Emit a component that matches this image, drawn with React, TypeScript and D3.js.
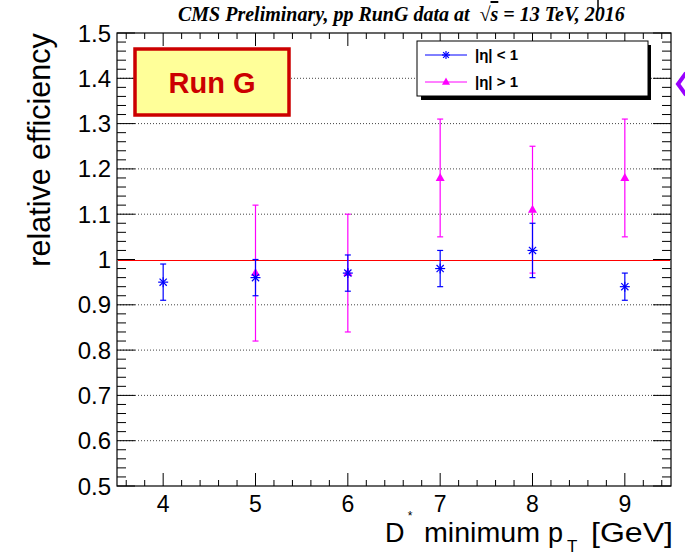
import React from "react";
import * as d3 from "d3";

const ptCuts = [4, 5, 6, 7, 8, 9];
const centralVal = [0.95, 0.96, 0.97, 0.98, 1.02, 0.94];
const centralErr = [0.04, 0.04, 0.04, 0.04, 0.06, 0.03];
const forwardVal = [null, 0.97, 0.97, 1.18, 1.11, 1.18];
const forwardErr = [null, 0.15, 0.13, 0.13, 0.14, 0.13];
const yTicks = [0.5, 0.6, 0.7, 0.8, 0.9, 1, 1.1, 1.2, 1.3, 1.4, 1.5];
const xTicks = [4, 5, 6, 7, 8, 9];
const legendLabels = ["|η| < 1", "|η| > 1"];

const W = 685, H = 554;
const L = 117, R = 671, T = 33, B = 486;
const FONT = "'Liberation Sans', Arial, Helvetica, sans-serif";
const SERIF = "'Liberation Serif', 'Times New Roman', serif";

export default function App() {
  const x = d3.scaleLinear().domain([3.5, 9.5]).range([L, R]);
  const y = d3.scaleLinear().domain([0.5, 1.5]).range([B, T]);

  const yMinor = d3.range(0.5, 1.5001, 0.02).map((v) => +v.toFixed(2));
  const xMinor = d3.range(3.6, 9.5001, 0.2).map((v) => +v.toFixed(2));
  const isMajorY = (v: number) => Math.abs(v * 10 - Math.round(v * 10)) < 1e-6;
  const isMajorX = (v: number) => Math.abs(v - Math.round(v)) < 1e-6;

  const star = (cx: number, cy: number, r: number, color: string, key: string) => {
    const d = r * 0.72;
    return (
      <g key={key} stroke={color} strokeWidth={1.2}>
        <line x1={cx - r} y1={cy} x2={cx + r} y2={cy} />
        <line x1={cx} y1={cy - r} x2={cx} y2={cy + r} />
        <line x1={cx - d} y1={cy - d} x2={cx + d} y2={cy + d} />
        <line x1={cx - d} y1={cy + d} x2={cx + d} y2={cy - d} />
      </g>
    );
  };
  const tri = (cx: number, cy: number, r: number, color: string, key: string) => (
    <path
      key={key}
      d={`M${cx},${cy - r} L${cx + r * 0.9},${cy + r * 0.6} L${cx - r * 0.9},${cy + r * 0.6} Z`}
      fill={color}
    />
  );
  const errBar = (xv: number, v: number, e: number, color: string, key: string) => {
    const cx = x(xv);
    const y1 = y(v + e), y2 = y(v - e);
    return (
      <g key={key} stroke={color} strokeWidth={1.2}>
        <line x1={cx} y1={y1} x2={cx} y2={y2} />
        <line x1={cx - 3} y1={y1} x2={cx + 3} y2={y1} />
        <line x1={cx - 3} y1={y2} x2={cx + 3} y2={y2} />
      </g>
    );
  };

  return (
    <svg width={W} height={H} style={{ position: "absolute", left: 0, top: 0, background: "#fff" }}>
      <rect x={0} y={0} width={W} height={H} fill="#fff" />
      {/* grid */}
      {yTicks.filter((v) => v > 0.5 && v < 1.5 && v !== 1).map((v) => (
        <line key={"g" + v} x1={L} x2={R} y1={y(v)} y2={y(v)} stroke="#444" strokeWidth={1} strokeDasharray="1 2" />
      ))}

      {/* y ticks */}
      {yMinor.map((v) => {
        const len = isMajorY(v) ? 18 : 9;
        return (
          <g key={"yt" + v} stroke="#000" strokeWidth={1}>
            <line x1={L} x2={L + len} y1={y(v)} y2={y(v)} />
            <line x1={R} x2={R - len} y1={y(v)} y2={y(v)} />
          </g>
        );
      })}
      {/* x ticks */}
      {xMinor.map((v) => {
        const len = isMajorX(v) ? 13 : 6;
        return (
          <g key={"xt" + v} stroke="#000" strokeWidth={1}>
            <line x1={x(v)} x2={x(v)} y1={B} y2={B - len} />
            <line x1={x(v)} x2={x(v)} y1={T} y2={T + len} />
          </g>
        );
      })}
      {/* red line at 1 */}
      <line x1={L + 1} x2={R - 1} y1={Math.round(y(1)) + 0.5} y2={Math.round(y(1)) + 0.5} stroke="#ff0000" strokeWidth={1} />
      {/* frame */}
      <rect x={L} y={T} width={R - L} height={B - T} fill="none" stroke="#000" strokeWidth={1.2} />

      {/* y tick labels */}
      {yTicks.map((v) => (
        <text key={"yl" + v} x={111} y={y(v) + 8.5} textAnchor="end" fontFamily={FONT} fontSize={24} fill="#000">
          {d3.format("")(v)}
        </text>
      ))}
      {/* x tick labels */}
      {xTicks.map((v) => (
        <text key={"xl" + v} x={x(v)} y={512} textAnchor="middle" fontFamily={FONT} fontSize={23} fill="#000">
          {v}
        </text>
      ))}

      {/* axis titles */}
      <text
        transform={`translate(50,150) rotate(-90)`}
        textAnchor="middle"
        fontFamily={FONT}
        fontSize={30.5}
        fill="#000"
      >
        relative efficiency
      </text>
      <g fontFamily={FONT} fontSize={27} fill="#000">
        <text x={385} y={542}>D</text>
        <text x={424} y={542} textLength={116} lengthAdjust="spacingAndGlyphs">minimum</text>
        <text x={548} y={542}>p</text>
        <text x={567} y={552} fontSize={17}>T</text>
        <text x={591} y={542} textLength={82} lengthAdjust="spacingAndGlyphs">[GeV]</text>
      </g>
      <text x={410} y={520} textAnchor="middle" fontFamily={FONT} fontSize={12} fill="#000">*</text>

      {/* title */}
      <text x={178} y={21} fontFamily={SERIF} fontStyle="italic" fontWeight="bold" fontSize={20} fill="#000" style={{ whiteSpace: "pre" }}>
        {"CMS Preliminary, pp RunG data at  √"}
        <tspan textDecoration="overline">s</tspan>
        {" = 13 TeV, 2016"}
      </text>

      {/* data: forward (magenta) */}
      {ptCuts.map((p, i) =>
        forwardVal[i] == null ? null : errBar(p, forwardVal[i] as number, forwardErr[i] as number, "#ff00ff", "fe" + i)
      )}
      {ptCuts.map((p, i) =>
        forwardVal[i] == null ? null : tri(x(p), y(forwardVal[i] as number), 5, "#ff00ff", "fm" + i)
      )}
      {/* data: central (blue) */}
      {ptCuts.map((p, i) => errBar(p, centralVal[i], centralErr[i], "#0000ff", "ce" + i))}
      {ptCuts.map((p, i) => star(x(p), y(centralVal[i]), 5, "#0000ff", "cm" + i))}

      {/* Run G box */}
      <rect x={135} y={49} width={154} height={66} fill="#ffff99" stroke="#cc0000" strokeWidth={3.5} />
      <text x={212} y={93} textAnchor="middle" fontFamily={FONT} fontWeight="bold" fontSize={29} fill="#cc0000">
        Run G
      </text>

      {/* legend */}
      <rect x={421} y={45} width={230} height={55} fill="#000" />
      <rect x={417} y={41} width={231} height={55} fill="#fff" stroke="#000" strokeWidth={1} />
      <line x1={425} x2={467} y1={55} y2={55} stroke="#0000ff" strokeWidth={1} />
      {star(446, 55, 4, "#0000ff", "lg0")}
      <text x={475} y={60} fontFamily={FONT} fontWeight="bold" fontSize={15} fill="#000" style={{ whiteSpace: "pre" }}>{legendLabels[0]}</text>
      <line x1={425} x2={467} y1={82} y2={82} stroke="#ff00ff" strokeWidth={1} />
      {tri(446, 82, 4.5, "#ff00ff", "lg1")}
      <text x={475} y={87} fontFamily={FONT} fontWeight="bold" fontSize={15} fill="#000" style={{ whiteSpace: "pre" }}>{legendLabels[1]}</text>

      {/* stray decorations from source image */}
      <line x1={598} x2={598} y1={0} y2={10} stroke="#000" strokeWidth={1.5} />
      <path d="M686,73 L678,84 L686,95" fill="none" stroke="#9900ff" strokeWidth={4} />
    </svg>
  );
}
